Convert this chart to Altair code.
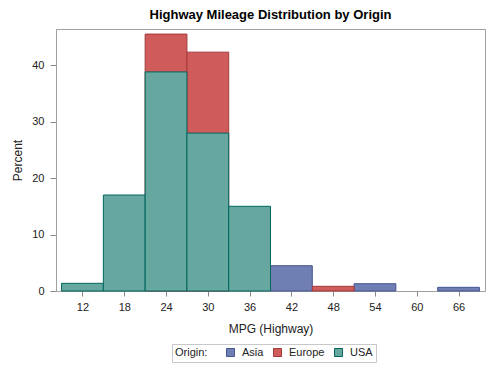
import altair as alt
import pandas as pd

# Bin centers (MPG highway, bin width 6) and percent of cars in each bin, by origin
asia_mid = [42, 54, 66]
asia_pct = [4.48, 1.29, 0.65]
europe_mid = [24, 30, 48]
europe_pct = [45.5, 42.3, 0.83]
usa_mid = [12, 18, 24, 30, 36]
usa_pct = [1.36, 17.0, 38.8, 27.96, 15.0]

origins = ["Asia", "Europe", "USA"]
fills = ["#6F7EB3", "#D05B5B", "#66A8A0"]
strokes = ["#445694", "#A23A3A", "#01665E"]
x_ticks = [12, 18, 24, 30, 36, 42, 48, 54, 60, 66]
y_ticks = [0, 10, 20, 30, 40]
bin_width = 6

rows = []
for name, mids, pcts in [("Asia", asia_mid, asia_pct), ("Europe", europe_mid, europe_pct), ("USA", usa_mid, usa_pct)]:
    for m, p in zip(mids, pcts):
        rows.append({"Origin": name, "mid": m, "pct": p, "order": origins.index(name)})
df = pd.DataFrame(rows)

FONT = "Liberation Sans"

chart = alt.Chart(df).transform_calculate(
    x0=f"datum.mid - {bin_width/2}",
    x1=f"datum.mid + {bin_width/2}",
).mark_rect(strokeWidth=1, opacity=1).encode(
    x=alt.X("x0:Q", scale=alt.Scale(domain=[8.2, 69.8], nice=False, zero=False),
            axis=alt.Axis(values=x_ticks, title="MPG (Highway)", grid=False, domain=False,
                          tickSize=5, tickColor="#888888", labelPadding=5,
                          labelFontSize=11, labelColor="#222222", labelFont=FONT,
                          titleFont=FONT, titleFontSize=12, titleFontWeight="normal",
                          titleColor="#222222", titleY=37, titleBaseline="middle")),
    x2="x1:Q",
    y=alt.Y("pct:Q", scale=alt.Scale(domain=[0, 46.4], nice=False),
            axis=alt.Axis(values=y_ticks, title="Percent", grid=False, domain=False,
                          tickSize=6, tickColor="#888888", labelPadding=6,
                          labelFontSize=11, labelColor="#222222", labelFont=FONT,
                          titleFont=FONT, titleFontSize=12, titleFontWeight="normal",
                          titleColor="#222222", titleX=-39, titleY=131,
                          titleAngle=-90, titleAlign="center", titleBaseline="middle")),
    y2=alt.datum(0),
    fill=alt.Fill("Origin:N", scale=alt.Scale(domain=origins, range=fills),
                  legend=alt.Legend(title="Origin:", orient="none", direction="horizontal",
                                    legendX=116, legendY=315, titleOrient="left",
                                    symbolType="square", symbolSize=64, symbolStrokeWidth=1,
                                    labelFontSize=11, labelFont=FONT, labelColor="#222222",
                                    titleFontSize=11, titleFont=FONT, titleFontWeight="normal",
                                    titleColor="#222222", titlePadding=17, columnPadding=7,
                                    gridAlign="none", labelOffset=6, padding=3,
                                    strokeColor="#C8C8C8")),
    stroke=alt.Stroke("Origin:N", scale=alt.Scale(domain=origins, range=strokes)),
    order=alt.Order("order:Q"),
).properties(
    width=429, height=262,
    padding={"left": 48, "top": 21, "right": 2, "bottom": 72},
    autosize=alt.AutoSizeParams(type="none"),
    title=alt.TitleParams("Highway Mileage Distribution by Origin", font=FONT, fontSize=13,
                          fontWeight="bold", color="#000000", anchor="middle", offset=7),
).configure_view(stroke="#A0A0A0", strokeWidth=1)

chart.save("out.html", embed_options={"renderer": "svg", "actions": False})
